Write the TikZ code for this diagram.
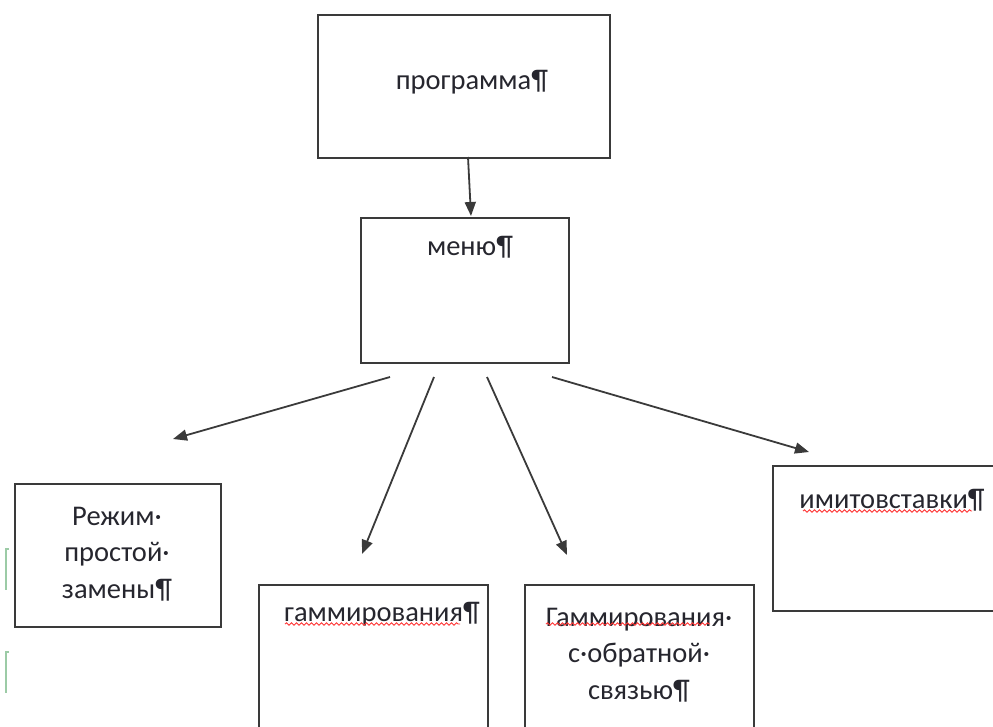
\documentclass[tikz,border=0pt]{standalone}
\usepackage{fontspec}
\setmainfont{Carlito}
\usetikzlibrary{arrows.meta,decorations.pathmorphing}
\definecolor{edge}{HTML}{3A3A3A}
\definecolor{ink}{HTML}{26262E}
\definecolor{mark}{HTML}{9CCBA6}
\begin{document}
\begin{tikzpicture}[x=1pt,y=-1pt,
  box/.style={draw=edge,line width=2pt,anchor=north west,inner sep=0pt},
  txt/.style={text=ink,inner sep=0pt,align=center,
    font=\fontsize{28.5}{36.5}\selectfont},
  link/.style={draw=edge,line width=1.8pt,
    -{Triangle[length=14pt,width=11pt]}},
  spell/.style={draw=red!80!white,line width=0.9pt,
    decorate,decoration={snake,segment length=5pt,amplitude=1.2pt}},
  cursor/.style={draw=mark,line width=1.3pt}]
\useasboundingbox (0,0) rectangle (993,726);
\clip (0,0) rectangle (993,726);

% boxes
\node[box,minimum width=292pt,minimum height=143pt] (prog) at (317,14) {};
\node[box,minimum width=208pt,minimum height=145pt] (menu) at (360,217) {};
\node[box,minimum width=206pt,minimum height=143pt] (simple) at (14,483) {};
\node[box,minimum width=229pt,minimum height=180pt] (gamma) at (258,584) {};
\node[box,minimum width=229pt,minimum height=180pt] (gammafb) at (524,584) {};
\node[box,minimum width=240pt,minimum height=145pt] (imit) at (772,465) {};

% labels
\node[txt] (progt) at (472,82) {программа¶};
\node[txt] (menut) at (470,247) {меню¶};
\node[txt] (simplet) at (117,554) {Режим·\\простой·\\замены¶};
\node[txt] (gammat) at (382,614) {гаммирования¶};
\node[txt] (gammafbt) at (639,655) {Гаммирования·\\с·обратной·\\связью¶};
\node[txt] (imitt) at (892,500) {имитовставки¶};

% spelling underlines
\draw[spell] (285,624) -- (460,624);
\draw[spell] (546,624) -- (710,624);
\draw[spell] (803,511) -- (972,511);

% connectors
\coordinate (p0) at (468,157);
\coordinate (m0) at (471,216);
\coordinate (a1) at (390,377);
\coordinate (b1) at (173,439);
\coordinate (a2) at (434,377);
\coordinate (b2) at (362,554);
\coordinate (a3) at (487,377);
\coordinate (b3) at (567,555);
\coordinate (a4) at (552,377);
\coordinate (b4) at (809,452);
\draw[link] (p0) -- (m0);
\draw[link] (a1) -- (b1);
\draw[link] (a2) -- (b2);
\draw[link] (a3) -- (b3);
\draw[link] (a4) -- (b4);

% text cursor marks at the left margin
\draw[cursor] (9,549) -- (6,549) -- (6,590);
\draw[cursor] (9,652) -- (6,652) -- (6,693);
\end{tikzpicture}
\end{document}
